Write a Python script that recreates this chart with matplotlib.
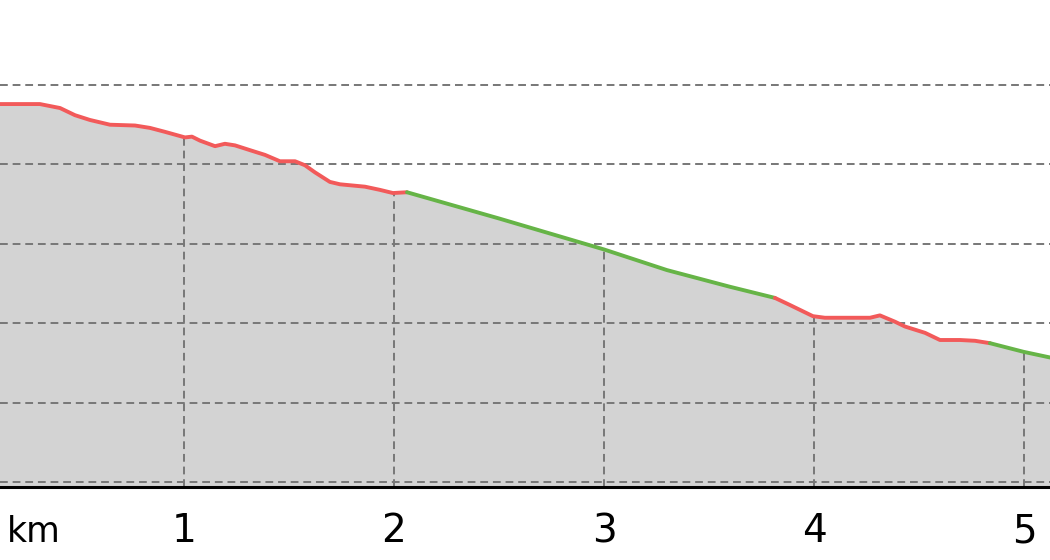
import numpy as np
import matplotlib
matplotlib.use("Agg")
import matplotlib.pyplot as plt

# profil de altitud (km, m)
dist = [0.124, 0.314, 0.410, 0.481, 0.552, 0.648, 0.767, 0.838, 0.910, 1.005,
        1.038, 1.076, 1.148, 1.195, 1.243, 1.314, 1.386, 1.457, 1.529, 1.576,
        1.624, 1.695, 1.743, 1.862, 1.933, 1.995, 2.062, 2.500, 3.000, 3.300,
        3.600, 3.814, 3.886, 3.995, 4.052, 4.267, 4.314, 4.386, 4.433, 4.529,
        4.600, 4.695, 4.767, 4.838, 5.000, 5.124, 5.200]
alt = [67.6, 67.6, 67.1, 66.2, 65.6, 65.0, 64.9, 64.6, 64.1, 63.4,
       63.5, 63.0, 62.3, 62.6, 62.4, 61.8, 61.2, 60.4, 60.4, 59.9,
       59.0, 57.8, 57.5, 57.2, 56.8, 56.4, 56.5, 53.2, 49.3, 46.7,
       44.6, 43.2, 42.3, 40.9, 40.7, 40.7, 41.0, 40.2, 39.6, 38.8,
       37.9, 37.9, 37.8, 37.5, 36.4, 35.7, 35.3]

# tramos: (desde km, hasta km, color)
tramos = [(0.0, 2.062, "#f25a5a"), (2.062, 3.814, "#66b447"),
          (3.814, 4.838, "#f25a5a"), (4.838, 6.0, "#66b447")]

km_ticks = [1, 2, 3, 4, 5]
niveles = [20, 30, 40, 50, 60, 70]

dist = np.array(dist)
alt = np.array(alt)
y0 = 19.37

fig = plt.figure(figsize=(10.5, 5.6), dpi=100)
ax = fig.add_axes([0, 0.13, 1, 0.87])

ax.fill_between(dist, alt, y0, color="#d3d3d3", zorder=1, lw=0)

for n in niveles:
    ax.axhline(n, color="#777777", lw=1.4, ls=(0, (4, 2.5)), zorder=2)

for k in km_ticks:
    ax.vlines(k, y0, np.interp(k, dist, alt), color="#777777", lw=1.4,
              ls=(0, (4, 2.5)), zorder=2)

for a, b, c in tramos:
    m = (dist >= a) & (dist <= b)
    ax.plot(dist[m], alt[m], color=c, lw=2.8, zorder=3, solid_capstyle="round")

ax.set_xlim(0.124, 5.124)
ax.set_ylim(y0, 80.7)

for s in ["top", "left", "right"]:
    ax.spines[s].set_visible(False)
ax.spines["bottom"].set_linewidth(2.2)
ax.spines["bottom"].set_color("black")
ax.spines["bottom"].set_zorder(4)

ax.set_yticks([])
ax.set_xticks(km_ticks)
ax.set_xticklabels([])
for k in km_ticks:
    ax.text(k, -0.113, str(k), transform=ax.get_xaxis_transform(),
            ha="center", va="baseline", fontsize=28)

ax.text(0.007, -0.113, "km", transform=ax.transAxes, ha="left", va="baseline",
        fontsize=25)
ax.tick_params(axis="x", length=0)

fig.savefig("out.png", dpi=100)
